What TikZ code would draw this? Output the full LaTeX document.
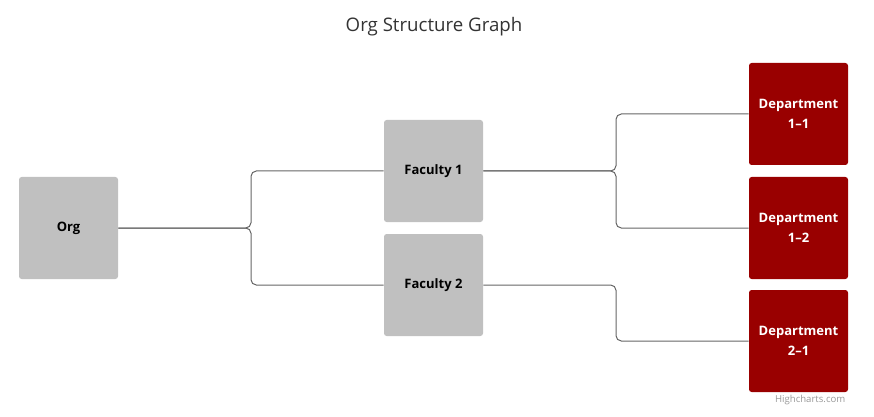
\documentclass[tikz,border=0pt]{standalone}
\usepackage{fontspec}
\setmainfont{Open Sans}
\definecolor{nodegray}{HTML}{C0C0C0}
\definecolor{deptred}{HTML}{990000}
\definecolor{linegray}{HTML}{666666}
\definecolor{titlecol}{HTML}{333333}
\definecolor{creditcol}{HTML}{999999}
\begin{document}
\begin{tikzpicture}[x=0.75pt,y=-0.75pt,
  box/.style={minimum width=74.25pt,minimum height=76.5pt,rounded corners=2pt,inner sep=0pt,align=center,font=\fontsize{9.75}{15.5}\selectfont\bfseries},
  facbox/.style={box,fill=nodegray,text=black},
  deptbox/.style={box,fill=deptred,text=white},
  link/.style={draw=linegray,line width=0.75pt,rounded corners=4pt}]
\useasboundingbox (0,0) rectangle (874,417);
\node[font=\fontsize{14}{17}\selectfont,text=titlecol] (title) at (434,27) {Org Structure Graph};
\node[facbox] (org) at (68.5,228) {Org};
\node[facbox] (f1) at (433.5,171) {Faculty 1};
\node[facbox] (f2) at (433.5,285) {Faculty 2};
\node[deptbox] (d11) at (798.5,114) {Department\\1--1};
\node[deptbox] (d12) at (798.5,228) {Department\\1--2};
\node[deptbox] (d21) at (798.5,341) {Department\\2--1};
\node[font=\fontsize{7.2}{8}\selectfont,text=creditcol,anchor=east] (credit) at (850,400) {Highcharts.com};
\draw[link] (org.east) -- (251,228) -- (251,171) -- (f1.west);
\draw[link] (org.east) -- (251,228) -- (251,285) -- (f2.west);
\draw[link] (f1.east) -- (616,171) -- (616,114) -- (d11.west);
\draw[link] (f1.east) -- (616,171) -- (616,228) -- (d12.west);
\draw[link] (f2.east) -- (616,285) -- (616,341) -- (d21.west);
\end{tikzpicture}
\end{document}
